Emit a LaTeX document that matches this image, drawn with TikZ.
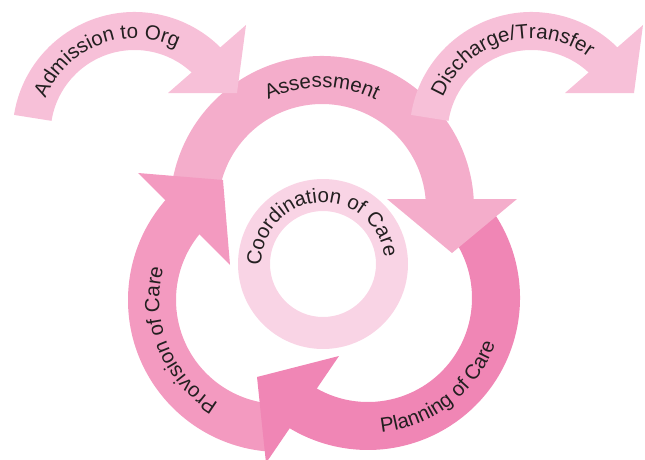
\documentclass[tikz,border=0pt]{standalone}
\usepackage{fontspec}
\setmainfont{Liberation Sans}
\usetikzlibrary{calc,decorations.text}
\definecolor{cAssess}{HTML}{F4ADCB}
\definecolor{cPlan}{HTML}{F086B5}
\definecolor{cProv}{HTML}{F39AC0}
\definecolor{cSide}{HTML}{F7C0D8}
\definecolor{cCoord}{HTML}{F9D4E5}
\definecolor{cText}{HTML}{231F20}
\newcommand\lblfont{\fontsize{20.5}{24}\selectfont}
\tikzset{arclabel/.style={decorate, decoration={text along path, text align=center, text color=cText, text={|\lblfont|#1}}}}
\begin{document}
\begin{tikzpicture}[x=1pt,y=1pt]
\useasboundingbox (0,0) rectangle (645,459);
\clip (0,0) rectangle (645,459);
\coordinate (A) at (322,251);
\coordinate (P) at (368,161);
\coordinate (V) at (280,159);
\coordinate (C) at (323,195);
\coordinate (Ad) at (134.5,325);
\coordinate (Di) at (531.5,325);
% bands
\fill[cAssess] ($(A)+(172:152)$) arc[start angle=172,end angle=2.8,radius=152] -- ($(A)+(4.4:104)$) arc[start angle=4.4,end angle=172,radius=104] -- cycle;
\fill[cPlan] ($(P)+(35:152)$) arc[start angle=35,end angle=-121.6,radius=152] -- ($(P)+(-120.1:104)$) arc[start angle=-120.1,end angle=35,radius=104] -- cycle;
\fill[cProv] ($(V)+(265:152)$) arc[start angle=265,end angle=138.4,radius=152] -- ($(V)+(140.3:104)$) arc[start angle=140.3,end angle=265,radius=104] -- cycle;
% heads
\fill[cAssess] (517,260) -- (452,206) -- (387,260) -- cycle;
\fill[cProv] (138,286) -- (223,279) -- (230,194) -- cycle;
\fill[cPlan] (339,103) -- (257,82) -- (266,-4) -- cycle;
% coordination ring
\fill[cCoord,even odd rule] (C) circle[radius=85] (C) circle[radius=53];
% admission
\fill[cSide] ($(Ad)+(171:122)$) arc[start angle=171,end angle=44.7,radius=122] -- ($(Ad)+(46.6:84)$) arc[start angle=46.6,end angle=171,radius=84] -- cycle;
\fill[cSide] (246,434) -- (237,366) -- (168,366) -- cycle;
% discharge
\fill[cSide] ($(Di)+(171:122)$) arc[start angle=171,end angle=44.7,radius=122] -- ($(Di)+(46.6:84)$) arc[start angle=46.6,end angle=171,radius=84] -- cycle;
\fill[cSide] (643,434) -- (634,366) -- (565,366) -- cycle;
% labels
\path[arclabel=Assessment] ($(A)+(150:120.7)$) arc[start angle=150,end angle=30,radius=120.7];
\path[arclabel=Provision of Care] ($(V)+(272:120.7)$) arc[start angle=272,end angle=132,radius=120.7];
\path[arclabel=Planning of Care] ($(P)+(-122:135.3)$) arc[start angle=-122,end angle=18,radius=135.3];
\path[arclabel=Coordination of Care] ($(C)+(214:61.7)$) arc[start angle=214,end angle=-26,radius=61.7];
\path[arclabel=Admission to Org] ($(Ad)+(191:95.7)$) arc[start angle=191,end angle=31,radius=95.7];
\path[arclabel=Discharge/Transfer] ($(Di)+(185.5:95.7)$) arc[start angle=185.5,end angle=25.5,radius=95.7];
\end{tikzpicture}
\end{document}
